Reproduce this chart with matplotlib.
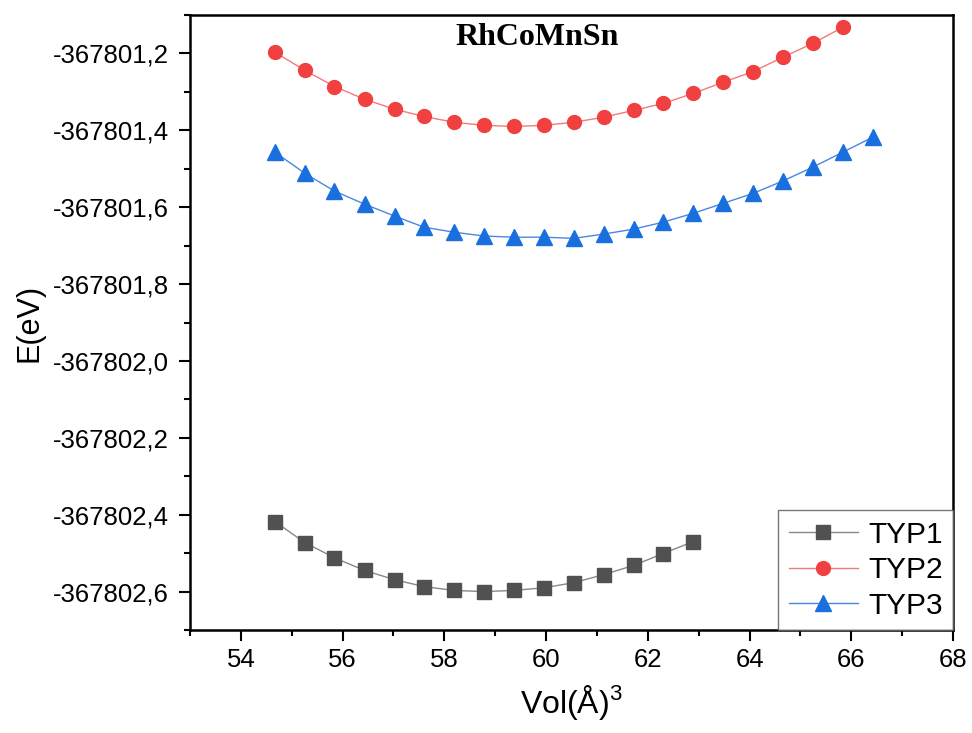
import matplotlib
matplotlib.use("Agg")
import matplotlib.pyplot as plt
from matplotlib.ticker import MultipleLocator, FuncFormatter

# cell volumes (A^3) and total energies (eV) for the three configurations
vol = [54.67, 55.26, 55.84, 56.43, 57.02, 57.60, 58.19, 58.78, 59.37, 59.96, 60.54,
       61.13, 61.72, 62.30, 62.89, 63.48, 64.07, 64.65, 65.24, 65.83, 66.42]

e_typ1 = [-367802.418, -367802.473, -367802.512, -367802.545, -367802.569,
          -367802.587, -367802.597, -367802.600, -367802.597, -367802.590,
          -367802.577, -367802.556, -367802.532, -367802.501, -367802.470]

e_typ2 = [-367801.197, -367801.244, -367801.286, -367801.319, -367801.345,
          -367801.364, -367801.379, -367801.387, -367801.390, -367801.387,
          -367801.379, -367801.366, -367801.348, -367801.330, -367801.304,
          -367801.275, -367801.247, -367801.210, -367801.174, -367801.132]

e_typ3 = [-367801.457, -367801.512, -367801.558, -367801.592, -367801.623,
          -367801.652, -367801.665, -367801.675, -367801.678, -367801.678,
          -367801.681, -367801.670, -367801.657, -367801.639, -367801.616,
          -367801.590, -367801.564, -367801.532, -367801.496, -367801.457,
          -367801.418]

labels = ["TYP1", "TYP2", "TYP3"]

plt.rcParams['font.family'] = ['Liberation Sans', 'DejaVu Sans']
plt.rcParams['mathtext.fontset'] = 'custom'
plt.rcParams['mathtext.rm'] = 'Liberation Sans'

fig = plt.figure(figsize=(9.72, 7.33), dpi=100)
ax = fig.add_axes([0.1955, 0.1405, 0.785, 0.839])

ax.plot(vol[:len(e_typ1)], e_typ1, color='#888888', lw=1.0, marker='s', ms=9.5,
        mfc='#515151', mec='#515151', label=labels[0])
ax.plot(vol[:len(e_typ2)], e_typ2, color='#f37a7a', lw=1.0, marker='o', ms=10,
        mfc='#F14040', mec='#F14040', label=labels[1])
ax.plot(vol[:len(e_typ3)], e_typ3, color='#4a87e3', lw=1.0, marker='^', ms=11.5,
        mfc='#1A6FDF', mec='#1A6FDF', label=labels[2])

ax.set_xlim(53, 68)
ax.set_ylim(-367802.7, -367801.1)

ax.xaxis.set_major_locator(MultipleLocator(2))
ax.xaxis.set_minor_locator(MultipleLocator(1))
ax.yaxis.set_major_locator(MultipleLocator(0.2))
ax.yaxis.set_minor_locator(MultipleLocator(0.1))
ax.yaxis.set_major_formatter(FuncFormatter(lambda v, p: f"{v:.1f}".replace('.', ',')))

for s in ax.spines.values():
    s.set_linewidth(1.8)
ax.tick_params(which='major', direction='out', length=8, width=1.5, labelsize=18.5)
ax.tick_params(axis='y', which='major', pad=7)
ax.tick_params(axis='x', which='major', pad=5)
ax.tick_params(which='minor', direction='out', length=4.5, width=1.5)

ax.set_xlabel('Vol(Å)$^3$', fontsize=23, labelpad=8)
ax.set_ylabel('E(eV)', fontsize=22, labelpad=6)

ax.text(0.455, 0.963, 'RhCoMnSn', transform=ax.transAxes, ha='center', va='center',
        family='Liberation Serif', fontweight='bold', fontsize=23)

leg = ax.legend(loc='lower right', fontsize=21.5, frameon=True, fancybox=False,
                borderaxespad=0, handlelength=2.3, handletextpad=0.35,
                labelspacing=0.25, borderpad=0.35)
leg.get_frame().set_edgecolor('#555555')
leg.get_frame().set_linewidth(1.0)

fig.savefig('out.png', dpi=100)
